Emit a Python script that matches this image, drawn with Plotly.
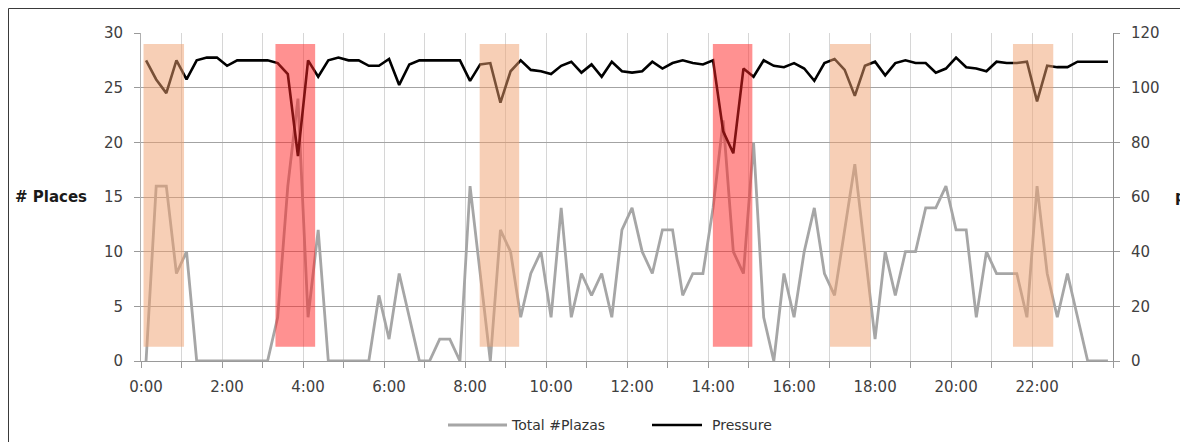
import plotly.graph_objects as go

# ---------------- data ----------------
hour_labels = ["0:00", "2:00", "4:00", "6:00", "8:00", "10:00",
               "12:00", "14:00", "16:00", "18:00", "20:00", "22:00"]
slot_times = [f"{h}:{m:02d}" for h in range(24) for m in (0, 15, 30, 45)]

places = [0, 16, 16, 8, 10, 0, 0, 0,
          0, 0, 0, 0, 0, 4, 16, 24,
          4, 12, 0, 0, 0, 0, 0, 6,
          2, 8, 4, 0, 0, 2, 2, 0,
          16, 8, 0, 12, 10, 4, 8, 10,
          4, 14, 4, 8, 6, 8, 4, 12,
          14, 10, 8, 12, 12, 6, 8, 8,
          14, 22, 10, 8, 20, 4, 0, 8,
          4, 10, 14, 8, 6, 12, 18, 10,
          2, 10, 6, 10, 10, 14, 14, 16,
          12, 12, 4, 10, 8, 8, 8, 4,
          16, 8, 4, 8, 4, 0, 0, 0]

pressure = [110, 103, 98, 110, 103, 110, 111, 111,
            108, 110, 110, 110, 110, 109, 105, 75,
            110, 104, 110, 111, 110, 110, 108, 108,
            110.5, 101, 108.5, 110, 110, 110, 110, 110,
            102.5, 108.5, 109, 94.5, 106, 110, 106.5, 106,
            105, 108, 109.5, 105.5, 108.5, 104, 109.5, 106,
            105.5, 106, 109.5, 107, 109, 110, 109, 108.5,
            110, 84, 76, 107, 104, 110, 108, 107.5,
            109, 107, 102.5, 109, 110.5, 106.5, 97, 108,
            109.5, 104.5, 109, 110, 109, 109, 105.5, 107,
            111, 107.5, 107, 106, 109.5, 109, 109, 109.5,
            95, 108, 107.5, 107.5, 109.5, 109.5, 109.5, 109.5]

# highlighted intervals (in 15-min slot units)
orange_bands = [(-0.25, 3.75), (32.95, 36.85), (67.55, 71.55), (85.62, 89.6)]
red_bands = [(12.78, 16.7), (55.98, 59.88)]
band_low, band_high = 1.3, 29.0

series_names = ["Total #Plazas", "Pressure"]

# ---------------- layout geometry ----------------
# the page body adds an 8px margin, so the figure is drawn 8px smaller
OFF = 8
W, H = 1188 - OFF, 442 - OFF
ML, MT = 141 - OFF, 33 - OFF
PW, PH = 972, 328
MR = W - ML - PW
MB = H - MT - PH


def px_x(px):
    """screen pixel x -> paper coordinate"""
    return (px - OFF - ML) / PW


def px_y(py):
    """screen pixel y -> paper coordinate"""
    return (MT + PH - (py - OFF)) / PH


slots = list(range(len(places)))
FONT = "DejaVu Sans"

fig = go.Figure()
fig.add_trace(go.Scatter(
    x=slots, y=places, mode="lines", name=series_names[0],
    text=slot_times, hovertemplate="%{text}: %{y}<extra></extra>",
    line=dict(color="#A6A6A6", width=2.8), yaxis="y"))
fig.add_trace(go.Scatter(
    x=slots, y=pressure, mode="lines", name=series_names[1],
    text=slot_times, hovertemplate="%{text}: %{y}<extra></extra>",
    line=dict(color="#000000", width=2.6), yaxis="y2"))

shapes = []
for x0, x1 in orange_bands:
    shapes.append(dict(type="rect", xref="x", yref="y", x0=x0, x1=x1,
                       y0=band_low, y1=band_high, line=dict(width=0),
                       fillcolor="rgba(240,160,110,0.5)", layer="above"))
for x0, x1 in red_bands:
    shapes.append(dict(type="rect", xref="x", yref="y", x0=x0, x1=x1,
                       y0=band_low, y1=band_high, line=dict(width=0),
                       fillcolor="rgba(255,35,35,0.5)", layer="above"))

# outer chart frame
shapes.append(dict(type="rect", xref="paper", yref="paper",
                   x0=px_x(8.5), x1=px_x(1200), y0=px_y(470), y1=px_y(8.5),
                   line=dict(color="#3A3A3A", width=1), layer="below"))

# manual legend samples
ly = px_y(425)
shapes.append(dict(type="line", xref="paper", yref="paper",
                   x0=px_x(448), x1=px_x(507), y0=ly, y1=ly,
                   line=dict(color="#A6A6A6", width=2.8)))
shapes.append(dict(type="line", xref="paper", yref="paper",
                   x0=px_x(652), x1=px_x(702), y0=ly, y1=ly,
                   line=dict(color="#000000", width=2.6)))

annotations = [
    dict(text=series_names[0], xref="paper", yref="paper", x=px_x(509), y=ly,
         xanchor="left", yanchor="middle", showarrow=False,
         font=dict(family=FONT, size=14, color="#333333")),
    dict(text=series_names[1], xref="paper", yref="paper", x=px_x(710), y=ly,
         xanchor="left", yanchor="middle", showarrow=False,
         font=dict(family=FONT, size=14, color="#333333")),
    dict(text="<b># Places</b>", xref="paper", yref="paper", x=px_x(13), y=px_y(197),
         xanchor="left", yanchor="middle", showarrow=False,
         font=dict(family=FONT, size=15, color="#1A1A1A")),
    dict(text="<b>p</b>", xref="paper", yref="paper", x=px_x(1173), y=px_y(197),
         xanchor="left", yanchor="middle", showarrow=False,
         font=dict(family=FONT, size=15, color="#1A1A1A")),
]

fig.update_layout(
    width=W, height=H,
    margin=dict(l=ML, r=MR, t=MT, b=MB, autoexpand=False),
    paper_bgcolor="white", plot_bgcolor="white",
    showlegend=False,
    font=dict(family=FONT, size=15, color="#404040"),
    shapes=shapes, annotations=annotations,
    xaxis=dict(
        range=[-0.5, len(places) - 0.5],
        tickmode="array", tickvals=[8 * k for k in range(len(hour_labels))],
        ticktext=hour_labels, ticks="", showgrid=False,
        showline=True, linecolor="#9A9A9A", linewidth=1, zeroline=False,
        ticklabelstandoff=12,
        tickfont=dict(family=FONT, size=15, color="#404040"),
        minor=dict(tick0=-0.5, dtick=4, ticks="outside", ticklen=6,
                   tickcolor="#9A9A9A", showgrid=True,
                   gridcolor="#D6D6D6", gridwidth=1),
    ),
    yaxis=dict(
        range=[0, 30], dtick=5, showgrid=True, gridcolor="#A3A3A3", gridwidth=1,
        ticks="outside", ticklen=6, tickcolor="#9A9A9A",
        showline=True, linecolor="#B0B0B0", linewidth=1, zeroline=False,
        ticklabelstandoff=8,
        tickfont=dict(family=FONT, size=15, color="#404040"),
    ),
    yaxis2=dict(
        range=[0, 120], dtick=20, overlaying="y", side="right", showgrid=False,
        ticks="outside", ticklen=6, tickcolor="#9A9A9A",
        showline=True, linecolor="#8C8C8C", linewidth=1, zeroline=False,
        ticklabelstandoff=8,
        tickfont=dict(family=FONT, size=15, color="#404040"),
    ),
)

fig.write_html("out.html")
